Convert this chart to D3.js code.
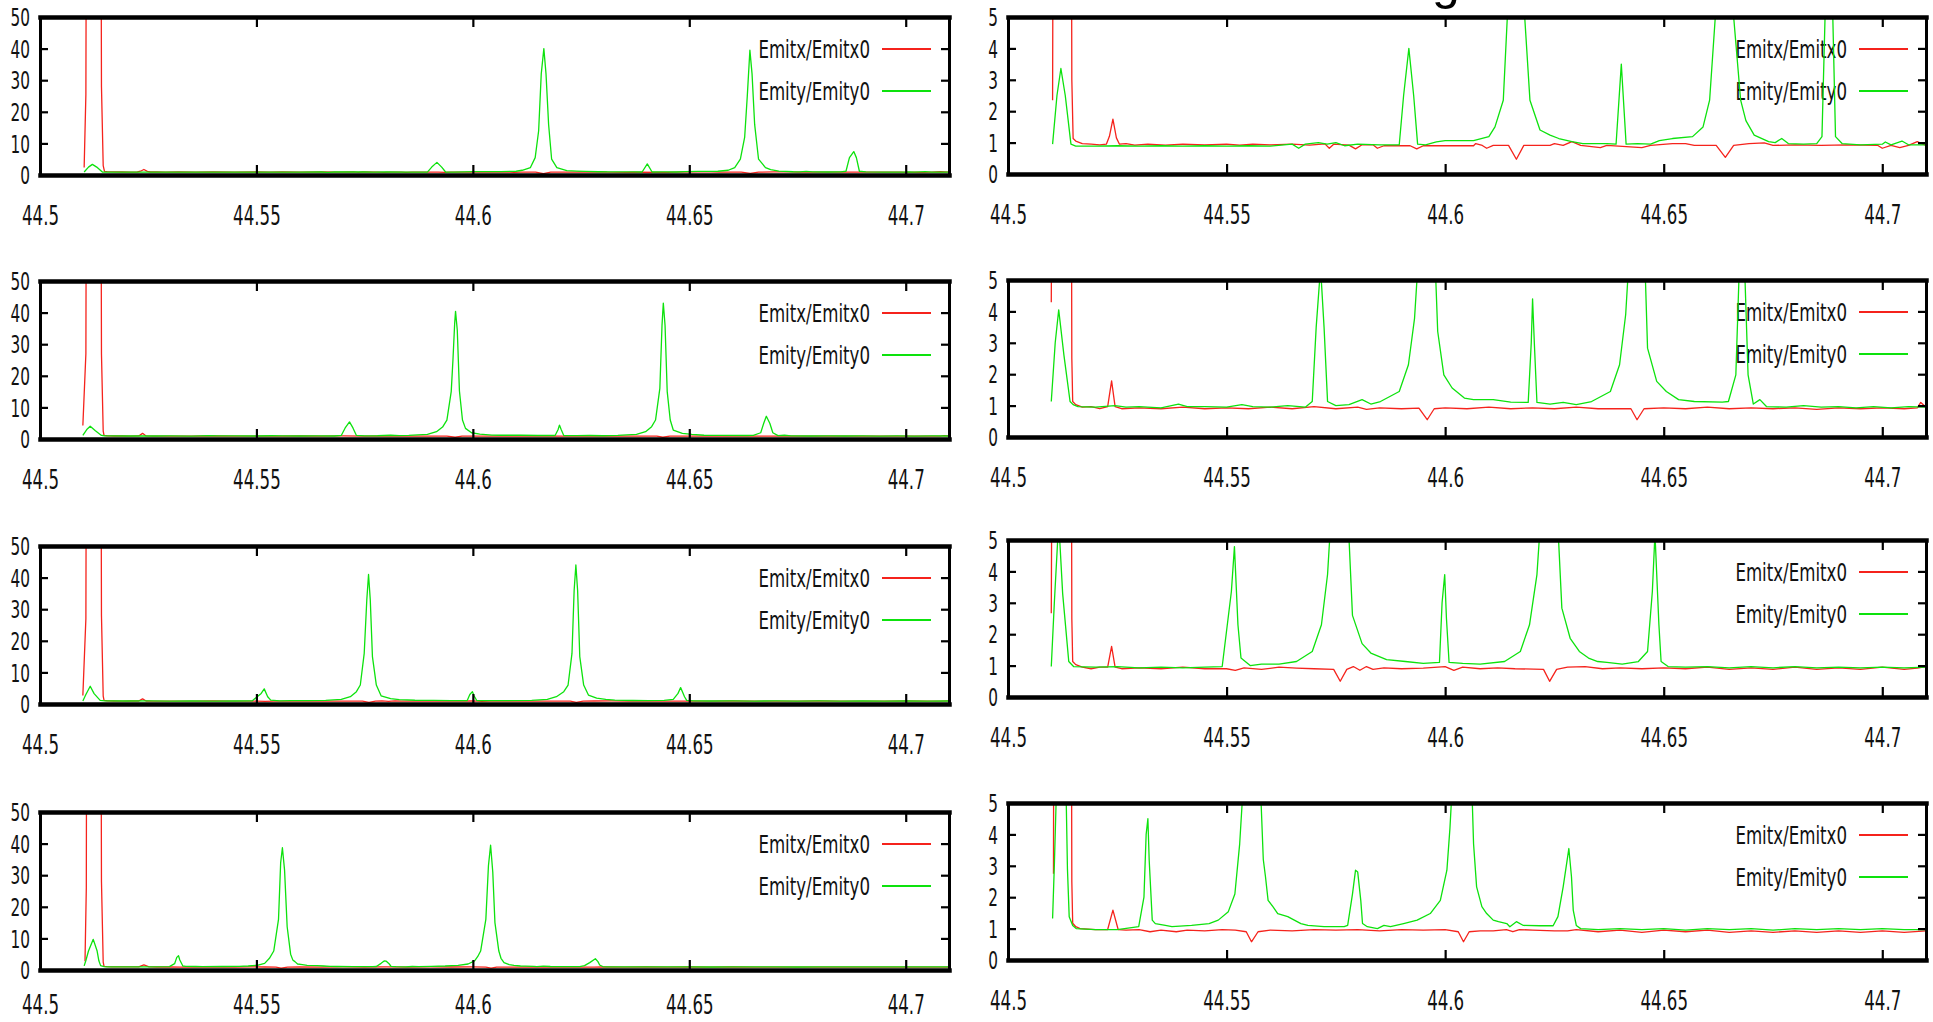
<!DOCTYPE html>
<html>
<head>
<meta charset="utf-8">
<script src="https://cdn.jsdelivr.net/npm/d3@7"></script>
<style>
  body { margin: 0; background: #fff; }
  .canvas { width: 1933px; height: 1022px; overflow: hidden; }
  text { font-family: 'DejaVu Sans Condensed', 'DejaVu Sans', sans-serif; font-stretch: condensed; }
</style>
</head>
<body>
<div class="canvas"></div>
<script>
// TICKS AND NAMES
const xDomain = [44.5, 44.71];
const xTicks = [44.5, 44.55, 44.6, 44.65, 44.7];
const yTicksWide = [0, 10, 20, 30, 40, 50];
const yTicksZoom = [0, 1, 2, 3, 4, 5];
const seriesNames = ['Emitx/Emitx0', 'Emity/Emity0'];

// ROW 1 - [x, value]
const emitx1 = [[44.5102,2.35],[44.5106,25.5],[44.5109,200],[44.5139,200],[44.5142,28],[44.5146,3.0],[44.5149,1.13],[44.5155,1.05],[44.517,0.97],[44.519,0.95],[44.521,0.93],[44.5225,0.95],[44.5232,1.2],[44.524,1.75],[44.5248,1.15],[44.5255,0.95],[44.527,0.97],[44.529,0.92],[44.532,0.95],[44.536,0.92],[44.54,0.95],[44.545,0.93],[44.55,0.95],[44.553,0.92],[44.556,0.95],[44.56,0.93],[44.565,0.95],[44.569,0.92],[44.5725,0.96],[44.5735,0.82],[44.5745,0.95],[44.578,0.92],[44.5795,0.8],[44.581,0.93],[44.5835,0.93],[44.5845,0.82],[44.586,0.9],[44.592,0.9],[44.5935,0.8],[44.595,0.9],[44.6065,0.9],[44.607,0.97],[44.6085,0.91],[44.6095,0.82],[44.611,0.91],[44.6145,0.91],[44.6163,0.47],[44.618,0.91],[44.624,0.91],[44.625,0.97],[44.627,0.91],[44.629,1.03],[44.631,0.91],[44.6355,0.84],[44.637,0.91],[44.645,0.84],[44.647,0.91],[44.652,0.97],[44.655,0.97],[44.657,0.91],[44.662,0.91],[44.6641,0.53],[44.666,0.91],[44.6695,0.97],[44.673,0.99],[44.675,0.91],[44.68,0.93],[44.686,0.91],[44.692,0.93],[44.699,0.91],[44.7,0.82],[44.702,0.91],[44.704,0.84],[44.706,0.91],[44.708,1.03],[44.71,0.91]];
const emity1 = [[44.5102,0.95],[44.5112,2.5],[44.5121,3.36],[44.5131,2.5],[44.5144,0.95],[44.5155,0.89],[44.52,0.89],[44.525,0.9],[44.53,0.89],[44.535,0.9],[44.54,0.89],[44.545,0.9],[44.55,0.89],[44.555,0.9],[44.56,0.89],[44.565,0.95],[44.5665,0.82],[44.568,0.95],[44.571,1.0],[44.573,0.95],[44.575,1.0],[44.577,0.9],[44.58,0.95],[44.585,0.93],[44.5895,0.93],[44.5905,2.5],[44.5917,4.0],[44.5928,2.5],[44.5937,0.95],[44.5955,0.93],[44.598,1.02],[44.6,1.06],[44.6065,1.06],[44.61,1.19],[44.6114,1.5],[44.6133,2.35],[44.6144,5.5],[44.6152,14],[44.6158,32],[44.6164,40],[44.6169,32],[44.6175,16],[44.6182,5.0],[44.6194,2.35],[44.6217,1.4],[44.624,1.24],[44.626,1.13],[44.629,1.03],[44.6315,0.97],[44.637,0.97],[44.6391,0.95],[44.6403,3.5],[44.6414,0.95],[44.644,0.97],[44.647,0.95],[44.649,1.06],[44.652,1.13],[44.6566,1.19],[44.659,1.5],[44.6605,2.35],[44.6618,5],[44.6628,12],[44.6634,25],[44.664,39.5],[44.6645,32],[44.6651,16],[44.666,5],[44.6676,2.35],[44.6688,1.7],[44.6707,1.24],[44.674,1.03],[44.6755,1.0],[44.677,1.13],[44.6785,0.97],[44.682,0.95],[44.685,0.97],[44.6862,1.19],[44.687,5.5],[44.688,7.4],[44.6886,5.5],[44.6893,1.19],[44.6908,0.97],[44.695,0.93],[44.7,0.95],[44.7007,1.02],[44.702,0.93],[44.7045,1.05],[44.706,0.93],[44.71,0.93]];

// ROW 2
const emitx2 = [[44.5099,4.29],[44.5106,27],[44.5109,200],[44.5139,200],[44.5142,27],[44.5146,2.5],[44.5148,1.13],[44.5155,1.03],[44.517,0.95],[44.519,0.97],[44.521,0.9],[44.5228,0.97],[44.5237,1.79],[44.5245,0.97],[44.526,0.9],[44.53,0.93],[44.535,0.9],[44.54,0.95],[44.545,0.9],[44.55,0.93],[44.555,0.9],[44.56,0.95],[44.565,0.9],[44.57,0.97],[44.575,0.9],[44.58,0.95],[44.582,0.88],[44.585,0.93],[44.59,0.9],[44.594,0.92],[44.5959,0.55],[44.5975,0.9],[44.6,0.93],[44.605,0.9],[44.61,0.95],[44.615,0.9],[44.62,0.93],[44.625,0.9],[44.63,0.95],[44.635,0.9],[44.6425,0.9],[44.6439,0.55],[44.6455,0.9],[44.65,0.93],[44.655,0.9],[44.66,0.95],[44.665,0.9],[44.67,0.93],[44.675,0.9],[44.68,0.93],[44.685,0.88],[44.69,0.93],[44.695,0.9],[44.7,0.93],[44.705,0.9],[44.708,0.93],[44.7088,1.1],[44.71,0.95]];
const emity2 = [[44.5099,1.13],[44.5108,3.0],[44.5116,4.05],[44.5128,2.6],[44.5142,1.13],[44.5149,1.03],[44.516,0.97],[44.52,0.95],[44.5245,1.0],[44.527,0.95],[44.53,0.97],[44.535,0.93],[44.539,1.05],[44.541,0.97],[44.545,0.97],[44.55,0.95],[44.5535,1.03],[44.556,0.97],[44.56,0.95],[44.564,1.0],[44.568,0.95],[44.5696,1.13],[44.5705,3.5],[44.5715,5.4],[44.5723,3.5],[44.5731,1.13],[44.575,1.0],[44.578,1.03],[44.581,1.19],[44.583,1.05],[44.5852,1.13],[44.5895,1.45],[44.5916,2.3],[44.593,3.78],[44.594,6],[44.595,15],[44.5954,25],[44.5958,36.6],[44.596,40.4],[44.5964,34.5],[44.5969,15.2],[44.5976,6],[44.5983,3.36],[44.5997,1.98],[44.6016,1.56],[44.6044,1.24],[44.6065,1.19],[44.611,1.19],[44.615,1.11],[44.619,1.1],[44.6197,3.0],[44.62,4.4],[44.6204,3.0],[44.621,1.1],[44.624,1.05],[44.627,1.1],[44.63,1.03],[44.6335,1.13],[44.6378,1.45],[44.6399,2.3],[44.6413,3.9],[44.6422,6],[44.6432,16],[44.6437,36],[44.644,43],[44.6444,36],[44.6449,15],[44.6456,6],[44.6463,2.83],[44.6484,1.77],[44.6506,1.45],[44.6534,1.19],[44.657,1.13],[44.6634,1.11],[44.6648,1.13],[44.6665,1.98],[44.6672,5],[44.6678,7.2],[44.6686,5],[44.6693,1.98],[44.6705,1.05],[44.672,1.19],[44.6735,0.97],[44.678,0.95],[44.682,1.0],[44.686,0.95],[44.69,0.97],[44.694,0.93],[44.698,0.97],[44.702,0.93],[44.706,0.97],[44.71,0.95]];

// ROW 3
const emitx3 = [[44.5099,2.67],[44.5106,27],[44.5109,200],[44.5139,200],[44.5142,28],[44.5146,2.5],[44.5148,1.13],[44.5155,1.03],[44.517,0.95],[44.519,0.9],[44.521,0.95],[44.5228,0.95],[44.5237,1.61],[44.5245,0.95],[44.526,0.9],[44.53,0.93],[44.535,0.9],[44.54,0.95],[44.545,0.9],[44.55,0.9],[44.552,0.85],[44.554,0.93],[44.558,0.88],[44.562,0.95],[44.566,0.92],[44.57,0.9],[44.5745,0.88],[44.576,0.5],[44.5775,0.88],[44.579,0.97],[44.5805,0.85],[44.582,0.97],[44.5835,0.88],[44.586,0.93],[44.59,0.9],[44.595,0.92],[44.6,0.97],[44.602,0.85],[44.604,0.95],[44.608,0.9],[44.612,0.93],[44.616,0.9],[44.6225,0.88],[44.6239,0.5],[44.6255,0.88],[44.628,0.95],[44.632,0.97],[44.636,0.9],[44.64,0.93],[44.645,0.9],[44.65,0.93],[44.655,0.9],[44.66,0.95],[44.665,0.88],[44.67,0.93],[44.675,0.88],[44.68,0.95],[44.685,0.88],[44.69,0.93],[44.695,0.88],[44.7,0.95],[44.705,0.88],[44.708,0.92],[44.71,0.97]];
const emity3 = [[44.5099,0.97],[44.5106,3],[44.5116,5.6],[44.5125,3.3],[44.5139,1.13],[44.515,0.97],[44.52,0.95],[44.525,0.97],[44.53,0.93],[44.535,0.95],[44.54,0.93],[44.545,0.95],[44.549,0.97],[44.5511,3.36],[44.5518,4.79],[44.5526,2.3],[44.5533,1.24],[44.5554,1.0],[44.558,1.05],[44.562,1.05],[44.566,1.13],[44.5696,1.45],[44.5717,2.3],[44.5731,3.9],[44.574,6],[44.5749,16],[44.5755,33],[44.5759,41],[44.5763,33],[44.5768,15],[44.5777,6],[44.5788,2.6],[44.581,1.7],[44.583,1.4],[44.5866,1.19],[44.5909,1.13],[44.595,1.07],[44.5987,1.1],[44.5993,3.0],[44.5999,3.9],[44.6003,2.5],[44.6009,1.1],[44.604,1.07],[44.608,1.05],[44.6136,1.13],[44.6172,1.45],[44.6193,2.3],[44.621,3.9],[44.622,6],[44.6229,16],[44.6234,36],[44.6238,44],[44.6242,36],[44.6247,15],[44.6256,6],[44.6267,2.83],[44.6286,1.87],[44.6307,1.45],[44.6328,1.24],[44.6349,1.13],[44.637,1.1],[44.6405,1.05],[44.6442,1.13],[44.6463,1.45],[44.6474,3.36],[44.648,5.2],[44.6489,2.3],[44.6494,1.13],[44.651,0.97],[44.655,0.95],[44.66,0.97],[44.665,0.93],[44.67,0.97],[44.675,0.93],[44.68,0.97],[44.685,0.93],[44.69,0.95],[44.695,0.93],[44.7,0.95],[44.705,0.93],[44.71,0.95]];

// ROW 4
const emitx4 = [[44.5104,2.75],[44.5107,26],[44.5109,200],[44.5139,200],[44.5142,28],[44.5146,2.5],[44.5148,1.17],[44.5155,1.06],[44.5165,1.0],[44.52,0.97],[44.5228,0.97],[44.524,1.59],[44.5252,0.97],[44.527,0.95],[44.53,0.97],[44.5325,0.9],[44.535,0.95],[44.5385,0.9],[44.541,0.95],[44.545,0.93],[44.549,0.97],[44.552,0.95],[44.5545,0.9],[44.5557,0.58],[44.5572,0.9],[44.56,0.95],[44.565,0.93],[44.57,0.97],[44.575,0.95],[44.58,0.97],[44.585,0.93],[44.59,0.97],[44.595,0.95],[44.6,0.97],[44.603,0.9],[44.6042,0.58],[44.6055,0.9],[44.608,0.93],[44.611,0.93],[44.614,0.97],[44.6155,0.9],[44.617,0.97],[44.62,0.95],[44.625,0.93],[44.628,0.93],[44.63,0.97],[44.635,0.9],[44.64,0.95],[44.645,0.88],[44.65,0.95],[44.655,0.9],[44.66,0.95],[44.665,0.88],[44.67,0.93],[44.675,0.88],[44.68,0.93],[44.685,0.88],[44.69,0.93],[44.695,0.88],[44.7,0.93],[44.705,0.88],[44.71,0.93]];
const emity4 = [[44.5102,1.32],[44.5106,3],[44.5112,6],[44.5123,9.7],[44.5132,6],[44.5136,2.9],[44.514,1.38],[44.5148,1.1],[44.5156,1.0],[44.52,0.97],[44.525,0.97],[44.5299,1.06],[44.5311,2.0],[44.5316,4.0],[44.532,4.5],[44.5323,3.18],[44.533,1.27],[44.5337,1.16],[44.536,1.1],[44.5375,1.06],[44.542,1.1],[44.546,1.16],[44.5481,1.27],[44.5504,1.54],[44.5519,2.1],[44.553,3.7],[44.554,6],[44.5551,16],[44.5556,34],[44.556,38.7],[44.5565,31.6],[44.5571,13.7],[44.5579,5],[44.5584,3.2],[44.5589,2.65],[44.5595,1.9],[44.5606,1.7],[44.5617,1.48],[44.564,1.38],[44.5655,1.27],[44.567,1.16],[44.5686,1.1],[44.5723,1.06],[44.5769,1.06],[44.5777,1.1],[44.5788,2.1],[44.5795,2.86],[44.58,2.8],[44.5807,1.9],[44.5811,1.16],[44.5822,1.06],[44.5845,1.0],[44.586,1.1],[44.5875,1.06],[44.5905,1.16],[44.5936,1.27],[44.5966,1.48],[44.5989,1.9],[44.6004,2.86],[44.6011,4.2],[44.6018,6],[44.603,16],[44.6036,33],[44.6041,39.5],[44.6046,31],[44.6051,15],[44.606,6],[44.6065,3.7],[44.6072,2.33],[44.6084,1.7],[44.6095,1.48],[44.611,1.27],[44.6122,1.22],[44.6141,1.16],[44.6148,1.06],[44.6163,1.22],[44.6179,1.1],[44.6217,1.09],[44.6247,1.09],[44.6258,1.38],[44.627,2.33],[44.6283,3.55],[44.6289,2.65],[44.6293,1.59],[44.63,1.1],[44.631,1.0],[44.635,0.97],[44.64,1.0],[44.645,0.97],[44.65,1.0],[44.655,0.95],[44.66,1.0],[44.665,0.97],[44.67,1.0],[44.675,0.95],[44.68,1.0],[44.685,0.97],[44.69,1.0],[44.695,0.97],[44.7,1.0],[44.705,0.97],[44.71,0.97]];

const rows = [
  [emitx1, emity1],
  [emitx2, emity2],
  [emitx3, emity3],
  [emitx4, emity4]
];

// LAYOUT (LEFT COLUMN 0-50, RIGHT COLUMN 0-5, SAME DATA)
const columns = [
  { x0: 40, x1: 949, tops: [17, 281, 546, 812], height: 158, yMax: 50, ticks: yTicksWide },
  { x0: 1008, x1: 1926, tops: [17, 280, 540, 803], height: 157, yMax: 5, ticks: yTicksZoom }
];
const colors = ['#f5231c', '#0de20d'];

const svg = d3
  .select('.canvas')
  .append('svg')
  .attr('width', 1933)
  .attr('height', 1022);

// CUT-OFF TITLE FRAGMENT (ONLY THE DESCENDER SHOWS)
svg
  .append('text')
  .attr('x', 1432)
  .attr('y', -1)
  .style('font-family', "'Liberation Sans', Arial, sans-serif")
  .style('font-stretch', 'normal')
  .style('font-size', '50px')
  .text('g');

const styleAxis = (g, domainWidth) => {
  g.select('.domain').attr('stroke-width', domainWidth).attr('stroke-linecap', 'square');
  g.selectAll('.tick line').attr('stroke-width', 2.2);
};

columns.forEach((col, c) => {
  col.tops.forEach((top, r) => {
    const x = d3.scaleLinear().domain(xDomain).range([col.x0, col.x1]);
    const y = d3.scaleLinear().domain([0, col.yMax]).range([top + col.height, top]);

    const clipId = `clip-${c}-${r}`;
    svg
      .append('clipPath')
      .attr('id', clipId)
      .append('rect')
      .attr('x', col.x0)
      .attr('y', top)
      .attr('width', col.x1 - col.x0)
      .attr('height', col.height);

    // LEGEND
    const legend = svg.append('g');
    seriesNames.forEach((name, s) => {
      const ly = top + 32 + s * 42;
      legend
        .append('text')
        .attr('text-anchor', 'end')
        .attr('transform', `translate(${col.x1 - 79}, ${ly}) scale(1, 1.32)`)
        .attr('dy', '0.36em')
        .style('font-size', '18.5px')
        .attr('fill', '#111')
        .text(name);
      legend
        .append('line')
        .attr('x1', col.x1 - 67)
        .attr('x2', col.x1 - 18)
        .attr('y1', ly)
        .attr('y2', ly)
        .attr('stroke', colors[s])
        .attr('stroke-width', 2);
    });

    // LINES
    const line = d3
      .line()
      .x((d) => x(d[0]))
      .y((d) => y(d[1]));

    const plot = svg.append('g').attr('clip-path', `url(#${clipId})`);
    rows[r].forEach((series, s) => {
      plot
        .append('path')
        .datum(series)
        .attr('d', line)
        .attr('fill', 'none')
        .attr('stroke', colors[s])
        .attr('stroke-width', 1.3)
        .attr('stroke-linejoin', 'round');
    });

    // AXES (INWARD TICKS, MIRRORED)
    // keep the last row's labels inside the page
    const labelOffset = Math.min(40, 1004 - (top + col.height));
    const bottom = svg
      .append('g')
      .attr('transform', `translate(0, ${top + col.height})`)
      .call(d3.axisBottom(x).tickValues(xTicks).tickSize(-10).tickSizeOuter(0).tickFormat((d) => String(d)));
    bottom
      .selectAll('.tick text')
      .attr('y', 0)
      .attr('dy', '0.36em')
      .attr('transform', `translate(0, ${labelOffset}) scale(1, 1.45)`)
      .style('font-size', '18.5px')
      .attr('fill', '#111');
    styleAxis(bottom, 4.5);

    const topAxis = svg
      .append('g')
      .attr('transform', `translate(0, ${top})`)
      .call(d3.axisTop(x).tickValues(xTicks).tickSize(-10).tickSizeOuter(0).tickFormat(''));
    styleAxis(topAxis, 4.5);

    const left = svg
      .append('g')
      .attr('transform', `translate(${col.x0}, 0)`)
      .call(d3.axisLeft(y).tickValues(col.ticks).tickSize(-8).tickSizeOuter(0).tickPadding(10).tickFormat(d3.format('d')));
    left
      .selectAll('.tick text')
      .attr('dy', '0.36em')
      .attr('transform', 'scale(1, 1.42)')
      .style('font-size', '17px')
      .attr('fill', '#111');
    styleAxis(left, 3);

    const right = svg
      .append('g')
      .attr('transform', `translate(${col.x1}, 0)`)
      .call(d3.axisRight(y).tickValues(col.ticks).tickSize(-8).tickSizeOuter(0).tickFormat(''));
    styleAxis(right, 3);
  });
});
</script>
</body>
</html>
